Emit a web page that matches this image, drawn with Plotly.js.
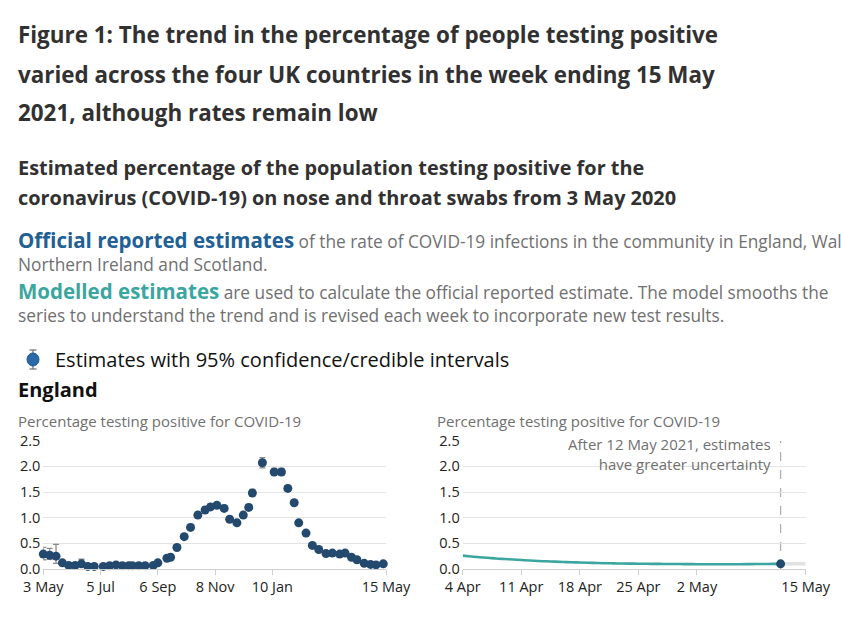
<!DOCTYPE html>
<html>
<head>
<meta charset="utf-8">
<script src="https://cdn.plot.ly/plotly-3.0.1.min.js"></script>
<style>
  html, body { margin: 0; padding: 0; background: #ffffff; }
  #chart { width: 841px; height: 622px; }
</style>
</head>
<body>
<div id="chart"></div>
<script>
// ---- Data: official reported estimates (England) ----
const officialDates = [
  '2020-05-03','2020-05-10','2020-05-17','2020-05-24','2020-05-31','2020-06-07','2020-06-14','2020-06-21','2020-06-28',
  '2020-07-08','2020-07-15','2020-07-22','2020-07-29','2020-08-05','2020-08-09','2020-08-16','2020-08-23','2020-09-01',
  '2020-09-06','2020-09-16','2020-09-20','2020-09-27','2020-10-05','2020-10-12','2020-10-20','2020-10-28','2020-11-03',
  '2020-11-10','2020-11-18','2020-11-24','2020-12-02','2020-12-09','2020-12-15','2020-12-19','2020-12-30','2021-01-12',
  '2021-01-20','2021-01-27','2021-02-03','2021-02-08','2021-02-16','2021-02-23','2021-03-02','2021-03-10','2021-03-17',
  '2021-03-25','2021-03-31','2021-04-07','2021-04-13','2021-04-21','2021-04-28','2021-05-04','2021-05-12'
];
const officialValues = [
  0.29,0.27,0.25,0.12,0.07,0.07,0.10,0.05,0.05,
  0.05,0.065,0.08,0.065,0.065,0.065,0.065,0.065,0.07,
  0.12,0.21,0.23,0.42,0.63,0.81,1.05,1.15,1.21,
  1.24,1.18,0.97,0.90,1.05,1.20,1.48,2.07,1.89,
  1.89,1.57,1.29,0.90,0.70,0.46,0.38,0.30,0.31,
  0.29,0.31,0.23,0.18,0.11,0.09,0.08,0.10
];
const officialUpper = [
  0.42,0.40,0.48,0.16,0.10,0.10,0.19,0.08,0.08,
  0.08,0.09,0.11,0.09,0.09,0.09,0.09,0.09,0.10,
  0.15,0.25,0.27,0.47,0.68,0.87,1.11,1.21,1.27,
  1.30,1.24,1.02,0.95,1.11,1.26,1.55,2.17,1.96,
  1.96,1.63,1.34,0.94,0.74,0.50,0.42,0.33,0.34,
  0.32,0.34,0.26,0.21,0.13,0.11,0.10,0.12
];
const officialLower = [
  0.18,0.19,0.11,0.09,0.05,0.05,0.05,0.03,0.03,
  0.03,0.045,0.06,0.045,0.045,0.045,0.045,0.045,0.05,
  0.10,0.18,0.20,0.38,0.59,0.76,1.00,1.10,1.16,
  1.19,1.13,0.92,0.86,1.00,1.15,1.42,1.97,1.83,
  1.83,1.52,1.24,0.86,0.66,0.43,0.35,0.27,0.28,
  0.26,0.28,0.20,0.15,0.09,0.07,0.06,0.08
];

// ---- Data: modelled estimates (England, daily) ----
const modelledDates = [
  '2021-04-04','2021-04-05','2021-04-06','2021-04-07','2021-04-08','2021-04-09','2021-04-10','2021-04-11',
  '2021-04-12','2021-04-13','2021-04-14','2021-04-15','2021-04-16','2021-04-17','2021-04-18','2021-04-19',
  '2021-04-20','2021-04-21','2021-04-22','2021-04-23','2021-04-24','2021-04-25','2021-04-26','2021-04-27',
  '2021-04-28','2021-04-29','2021-04-30','2021-05-01','2021-05-02','2021-05-03','2021-05-04','2021-05-05',
  '2021-05-06','2021-05-07','2021-05-08','2021-05-09','2021-05-10','2021-05-11','2021-05-12'
];
const modelledValues = [
  0.26,0.245,0.23,0.22,0.205,0.195,0.185,0.175,
  0.165,0.157,0.15,0.143,0.137,0.131,0.126,0.121,
  0.117,0.113,0.110,0.107,0.105,0.103,0.101,0.100,
  0.098,0.097,0.096,0.095,0.094,0.094,0.093,0.093,
  0.093,0.094,0.095,0.096,0.097,0.099,0.10
];
const uncertainDates = ['2021-05-12','2021-05-13','2021-05-14','2021-05-15'];
const uncertainValues = [0.10,0.10,0.10,0.10];

// ---- Tick labels ----
const yTickVals = [0, 0.5, 1.0, 1.5, 2.0, 2.5];
const yTickText = ['0.0','0.5','1.0','1.5','2.0','2.5'];
const leftTickVals = ['2020-05-03','2020-07-05','2020-09-06','2020-11-08','2021-01-10','2021-05-15'];
const leftTickText = ['3 May','5 Jul','6 Sep','8 Nov','10 Jan','15 May'];
const rightTickVals = ['2021-04-04','2021-04-11','2021-04-18','2021-04-25','2021-05-02','2021-05-15'];
const rightTickText = ['4 Apr','11 Apr','18 Apr','25 Apr','2 May','15 May'];

const NAVY = '#234a6e';
const TEAL = '#3aa69f';
const GREY_TXT = '#707071';
const DARK = '#323132';
const W = 841, H = 622;
const px = v => v / W;
const py = v => 1 - v / H;

const lastIdx = officialDates.length - 1;

const traces = [
  {
    type: 'scatter', mode: 'markers', xaxis: 'x', yaxis: 'y',
    x: officialDates, y: officialValues, cliponaxis: false,
    marker: { color: NAVY, size: 9 },
    error_y: {
      type: 'data', symmetric: false,
      array: officialUpper.map((u, i) => u - officialValues[i]),
      arrayminus: officialValues.map((v, i) => v - officialLower[i]),
      color: '#8a8a8a', thickness: 1.3, width: 3
    },
    hoverinfo: 'x+y'
  },
  {
    type: 'scatter', mode: 'lines', xaxis: 'x2', yaxis: 'y2',
    x: uncertainDates, y: uncertainValues, cliponaxis: false,
    line: { color: '#e2e2e2', width: 3.5 }, hoverinfo: 'skip'
  },
  {
    type: 'scatter', mode: 'lines', xaxis: 'x2', yaxis: 'y2',
    x: modelledDates, y: modelledValues, cliponaxis: false,
    line: { color: TEAL, width: 2.6, shape: 'spline' }
  },
  {
    type: 'scatter', mode: 'markers', xaxis: 'x2', yaxis: 'y2',
    x: [officialDates[lastIdx]], y: [officialValues[lastIdx]], cliponaxis: false,
    marker: { color: NAVY, size: 9 }
  }
];

const yDomain = [1 - 569 / H, 1 - 440.7 / H];
const commonX = {
  type: 'date', showgrid: false, zeroline: false,
  showline: true, linecolor: '#cfcfcf', linewidth: 1,
  ticks: 'outside', ticklen: 5, tickcolor: '#cfcfcf', tickwidth: 1,
  tickfont: { family: 'Open Sans', size: 14.5, color: '#222222' },
  tickmode: 'array', fixedrange: true
};
const commonY = {
  range: [0, 2.5], tickmode: 'array', tickvals: yTickVals, ticktext: yTickText,
  showgrid: true, gridcolor: '#e3e3e3', gridwidth: 1, zeroline: false, showline: false,
  ticks: '', ticklabelstandoff: 2, tickfont: { family: 'Open Sans', size: 14.5, color: '#222222' },
  domain: yDomain, fixedrange: true
};

function note(text, x, y, size, color, opts) {
  return Object.assign({
    text: text, x: px(x), y: py(y), xref: 'paper', yref: 'paper',
    xanchor: 'left', yanchor: 'middle', showarrow: false, align: 'left',
    font: { family: 'Open Sans', size: size, color: color }
  }, opts || {});
}

const annotations = [
  note('<b>Figure 1: The trend in the percentage of people testing positive</b>', 16, 35, 22.4, DARK),
  note('<b>varied across the four UK countries in the week ending 15 May</b>', 16, 74, 22.4, DARK),
  note('<b>2021, although rates remain low</b>', 16, 113, 22.4, DARK),
  note('<b>Estimated percentage of the population testing positive for the</b>', 16, 168, 19.9, DARK),
  note('<b>coronavirus (COVID-19) on nose and throat swabs from 3 May 2020</b>', 16, 198, 19.9, DARK),
  note('<span style="color:#206095;font-size:20.5px"><b>Official reported estimates</b></span> of the rate of COVID-19 infections in the community in England, Wales,', 16, 240, 17.3, GREY_TXT),
  note('Northern Ireland and Scotland.', 16, 264, 17.3, GREY_TXT),
  note('<span style="color:' + TEAL + ';font-size:20.5px"><b>Modelled estimates</b></span> are used to calculate the official reported estimate. The model smooths the', 16, 291, 17.3, GREY_TXT),
  note('series to understand the trend and is revised each week to incorporate new test results.', 16, 315, 17.3, GREY_TXT),
  note('Estimates with 95% confidence/credible intervals', 53, 359, 20, '#111111'),
  note('<b>England</b>', 16, 390, 20, '#111111'),
  note('Percentage testing positive for COVID-19', 16, 421, 15, GREY_TXT),
  note('Percentage testing positive for COVID-19', 435, 421, 15, GREY_TXT),
  note('After 12 May 2021, estimates<br>have greater uncertainty', 773, 454, 15, GREY_TXT, { xanchor: 'right', align: 'right' })
];

const shapes = [
  { type: 'line', xref: 'x2', yref: 'y2', x0: officialDates[lastIdx], x1: officialDates[lastIdx], y0: 0, y1: 2.5,
    line: { color: '#b0b0b0', width: 1.3, dash: 'dash' }, layer: 'below' },
  // legend glyph: error bar + dot
  { type: 'line', xref: 'paper', yref: 'paper', x0: px(33), x1: px(33), y0: py(350), y1: py(369), line: { color: '#777777', width: 1.3 } },
  { type: 'line', xref: 'paper', yref: 'paper', x0: px(29.5), x1: px(36.5), y0: py(350), y1: py(350), line: { color: '#777777', width: 1.3 } },
  { type: 'line', xref: 'paper', yref: 'paper', x0: px(29.5), x1: px(36.5), y0: py(369), y1: py(369), line: { color: '#777777', width: 1.3 } },
  { type: 'circle', xref: 'paper', yref: 'paper', x0: px(27), x1: px(39), y0: py(366), y1: py(353),
    fillcolor: '#2a6aa8', line: { color: '#1f5a92', width: 1 } }
];

const layout = {
  width: W, height: H,
  margin: { l: 0, r: 0, t: 0, b: 0 },
  paper_bgcolor: '#ffffff', plot_bgcolor: '#ffffff',
  showlegend: false,
  font: { family: 'Open Sans', color: '#222222' },
  xaxis: Object.assign({}, commonX, {
    domain: [px(43.3), px(386)], range: ['2020-05-03', '2021-05-15'],
    tickvals: leftTickVals, ticktext: leftTickText, anchor: 'y'
  }),
  yaxis: Object.assign({}, commonY, { anchor: 'x' }),
  xaxis2: Object.assign({}, commonX, {
    domain: [px(462.7), px(805.7)], range: ['2021-04-04', '2021-05-15'],
    tickvals: rightTickVals, ticktext: rightTickText, anchor: 'y2'
  }),
  yaxis2: Object.assign({}, commonY, { anchor: 'x2' }),
  annotations: annotations,
  shapes: shapes
};

Plotly.newPlot('chart', traces, layout, { displayModeBar: false, staticPlot: true });
</script>
</body>
</html>
